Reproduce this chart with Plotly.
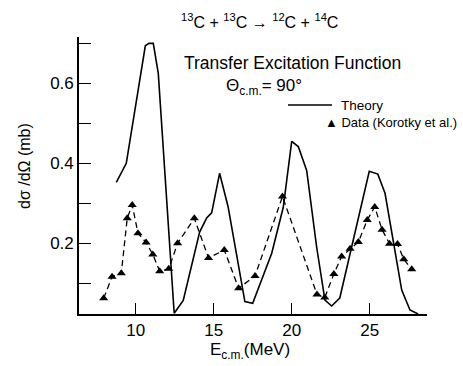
import plotly.graph_objects as go

# ---- data ----
theory_E = [8.76, 9.40, 10.62, 10.85, 11.13, 11.45, 12.47, 13.05, 14.10, 14.55, 14.87,
            15.38, 15.92, 16.47, 17.00, 17.50, 18.72, 19.46, 20.00, 20.42, 20.96,
            21.60, 22.13, 22.56, 23.08, 24.97, 25.52, 25.98, 26.51, 27.05, 27.58, 28.10]
theory_sigma = [0.352, 0.400, 0.694, 0.700, 0.700, 0.625, 0.025, 0.057, 0.228, 0.263, 0.276,
                0.375, 0.292, 0.175, 0.054, 0.050, 0.175, 0.290, 0.455, 0.442, 0.382,
                0.190, 0.058, 0.043, 0.063, 0.380, 0.373, 0.325, 0.200, 0.083, 0.033, 0.023]

data_E = [7.95, 8.49, 9.08, 9.46, 9.78, 10.15, 10.67, 11.10, 11.54, 12.12, 12.69,
          13.76, 14.67, 15.68, 16.60, 17.65, 19.41, 21.62, 22.12, 22.70, 23.20,
          23.74, 24.27, 24.84, 25.32, 25.79, 26.27, 26.78, 27.18, 27.69]
data_sigma = [0.0625, 0.116, 0.125, 0.2625, 0.296, 0.225, 0.202, 0.172, 0.130, 0.136, 0.200,
              0.2625, 0.163, 0.183, 0.0875, 0.118, 0.317, 0.072, 0.064, 0.123, 0.167,
              0.186, 0.203, 0.258, 0.291, 0.234, 0.199, 0.198, 0.160, 0.135]

x_ticks = [10, 15, 20, 25]
y_ticks = [0.2, 0.4, 0.6]
y_ticktext = ["0.2", "0.4", "0.6"]
y_minor_ticks = [0.1, 0.3, 0.5, 0.7]

FONT = "Liberation Sans, Arial, sans-serif"

W, H = 463, 366
L, R, T, B = 79, 36, 37, 52
PW, PH = W - L - R, H - T - B


def px(x):
    return (x - L) / PW


def py(y):
    return (H - B - y) / PH


fig = go.Figure()
fig.add_trace(go.Scatter(x=theory_E, y=theory_sigma, mode="lines",
                         line=dict(color="black", width=1.6), showlegend=False))
fig.add_trace(go.Scatter(x=data_E, y=data_sigma, mode="lines+markers",
                         line=dict(color="black", width=1.3, dash="6px,4px"),
                         marker=dict(symbol="triangle-up", size=8, color="black"),
                         showlegend=False))

fig.update_layout(
    width=W, height=H,
    margin=dict(l=L, r=R, t=T, b=B),
    paper_bgcolor="white", plot_bgcolor="white",
    font=dict(family=FONT, color="black", size=17),
    xaxis=dict(range=[6.37, 28.67], tickvals=x_ticks, ticks="inside", ticklen=11,
               tickwidth=1.3, tickcolor="black", showline=True, linecolor="black",
               linewidth=1.6, showgrid=False, zeroline=False,
               tickfont=dict(size=17)),
    yaxis=dict(range=[0.023, 0.716], tickvals=y_ticks, ticktext=y_ticktext,
               ticks="inside", ticklen=12, tickwidth=1.3, tickcolor="black",
               minor=dict(tickvals=y_minor_ticks, ticks="inside", ticklen=12,
                          tickwidth=1.3, tickcolor="black", showgrid=False),
               showline=True, linecolor="black", linewidth=1.6, showgrid=False,
               zeroline=False, tickfont=dict(size=17)),
)

ann = [
    dict(text="<sup>13</sup>C + <sup>13</sup>C \u2192 <sup>12</sup>C + <sup>14</sup>C",
         x=px(259), y=py(21), size=16, xanchor="center"),
    dict(text="Transfer Excitation Function", x=px(292), y=py(63), size=17.5, xanchor="center"),
    dict(text="\u0398<sub>c.m.</sub>= 90\u00b0", x=px(224), y=py(87), size=17, xanchor="left"),
    dict(text="Theory", x=px(339), y=py(105), size=13.5, xanchor="left"),
    dict(text="\u25b2 Data (Korotky et al.)", x=px(323), y=py(123), size=13, xanchor="left"),
    dict(text="E<sub>c.m.</sub>(MeV)", x=px(250), y=py(351), size=17, xanchor="center"),
]
for a in ann:
    fig.add_annotation(text=a["text"], x=a["x"], y=a["y"], xref="paper", yref="paper",
                       xanchor=a["xanchor"], yanchor="middle", showarrow=False,
                       font=dict(size=a["size"], family=FONT, color="black"))

fig.add_annotation(text="d\u03c3 /d\u03a9 (mb)", x=px(24), y=py(166), xref="paper",
                   yref="paper", textangle=-90, showarrow=False, xanchor="center",
                   yanchor="middle", font=dict(size=16, family=FONT, color="black"))

fig.add_shape(type="line", xref="paper", yref="paper", x0=px(288), x1=px(332),
              y0=py(105), y1=py(105), line=dict(color="black", width=1.3))

fig.write_html("out.html")
